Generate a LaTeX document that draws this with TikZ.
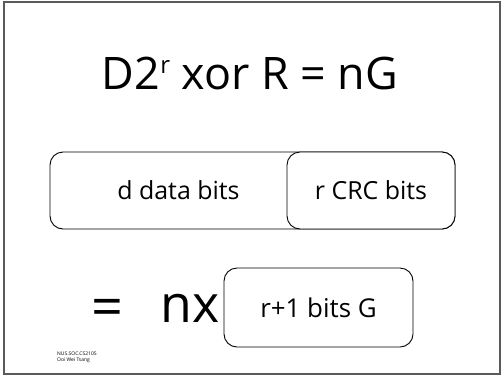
\documentclass[tikz,border=0pt]{standalone}
\usepackage{fontspec}
\setmainfont{Open Sans}
\usetikzlibrary{positioning}
\definecolor{grismarco}{HTML}{5A5A5A}
\tikzset{
  cajaBase/.style={
    draw=black, line width=0.9bp, rounded corners=13bp,
    minimum height=77bp, inner sep=0pt,
    align=center, font=\fontsize{25}{28}\selectfont,
    fill=white
  },
  cajaDatos/.style={cajaBase, minimum width=405bp},
  cajaCRC/.style={cajaBase, minimum width=168bp},
  cajaG/.style={cajaBase, minimum width=189bp, minimum height=79bp,
    font=\fontsize{26}{29}\selectfont},
  textoGrande/.style={font=\fontsize{45}{50}\selectfont, inner sep=0pt},
  textoPie/.style={font=\fontsize{5}{6}\selectfont, align=left, inner sep=0pt},
}
\begin{document}
\begin{tikzpicture}[x=1bp, y=-1bp]
    \useasboundingbox (0,0) rectangle (503,377);
    % marco de la diapositiva
    \draw[grismarco, line width=1.5bp] (4,2) rectangle (500,374);

    \node[textoGrande] (titulo) at (250,73)
      {D2\raisebox{16bp}{\fontsize{24}{26}\selectfont r} xor R = nG};

    \node[cajaDatos] (datos) at (252.5,190.5)
      {\makebox[237bp]{\hspace{20bp}d data bits}\hspace{168bp}};
    \node[cajaCRC, anchor=east] (crc) at (datos.east) {r CRC bits};

    \node[textoGrande, font=\fontsize{56}{60}\selectfont] (igual) at (107,313) {=};
    \node[textoGrande, font=\fontsize{52}{56}\selectfont] (nx) at (190,308) {nx};
    \node[cajaG] (g) at (318.5,307.5) {r+1 bits G};

    \node[textoPie, anchor=north west] (pie) at (57,352) {NUS.SOC.CS2105\\Ooi Wei Tsang};
  \end{tikzpicture}
\end{document}
